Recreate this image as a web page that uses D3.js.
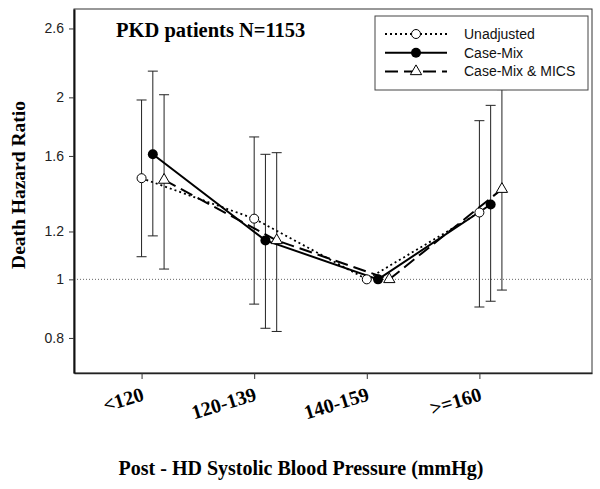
<!DOCTYPE html>
<html>
<head>
<meta charset="utf-8">
<script src="https://cdn.jsdelivr.net/npm/d3@7"></script>
<style>
  body { margin: 0; background: #fff; }
  svg { display: block; }
</style>
</head>
<body>
<svg id="chart" width="600" height="489"></svg>
<script>
// categories of post-HD systolic blood pressure
const categories = ['<120', '120-139', '140-159', '>=160'];

// hazard ratios (140-159 is the reference group)
const unadjusted = [1.47, 1.26, 1, 1.29];
const unadjustedLow = [1.09, 0.91, null, 0.90];
const unadjustedHigh = [1.98, 1.72, null, 1.83];

const caseMix = [1.61, 1.16, 1, 1.33];
const caseMixLow = [1.18, 0.83, null, 0.92];
const caseMixHigh = [2.21, 1.61, null, 1.94];

const caseMixMics = [1.46, 1.16, 1, 1.41];
const caseMixMicsLow = [1.04, 0.82, null, 0.96];
const caseMixMicsHigh = [2.02, 1.62, null, 2.06];

const seriesNames = ['Unadjusted', 'Case-Mix', 'Case-Mix & MICS'];
const yTicks = [0.8, 1, 1.2, 1.6, 2, 2.6];

const serif = '"Liberation Serif", "Times New Roman", serif';
const sans = '"Liberation Sans", Arial, sans-serif';

const series = [
    { name: seriesNames[0], values: unadjusted, low: unadjustedLow, high: unadjustedHigh,
      shift: 0, dash: '2,3', width: 1.8, marker: 'open' },
    { name: seriesNames[1], values: caseMix, low: caseMixLow, high: caseMixHigh,
      shift: 0.1, dash: null, width: 2, marker: 'filled' },
    { name: seriesNames[2], values: caseMixMics, low: caseMixMicsLow, high: caseMixMicsHigh,
      shift: 0.2, dash: '13,6', width: 2, marker: 'triangle' }
];

const svg = d3.select('#chart');

const plotLeft = 74, plotRight = 592, plotTop = 9, plotBottom = 373;

const x = d3.scaleLinear()
    .domain([0.4, 5])
    .range([plotLeft, plotRight]);

const y = d3.scaleLog()
    .domain([0.7, 2.8])
    .range([plotBottom, plotTop]);

// frame
svg.append('rect')
    .attr('x', plotLeft)
    .attr('y', plotTop)
    .attr('width', plotRight - plotLeft)
    .attr('height', plotBottom - plotTop)
    .attr('fill', 'none')
    .attr('stroke', '#333')
    .attr('stroke-width', 1);

// reference line at HR = 1
svg.append('line')
    .attr('x1', plotLeft)
    .attr('x2', plotRight)
    .attr('y1', y(1))
    .attr('y2', y(1))
    .attr('stroke', '#666')
    .attr('stroke-width', 1)
    .attr('stroke-dasharray', '1,2');

// axes
const xAxis = svg.append('g')
    .attr('transform', `translate(0, ${plotBottom})`)
    .call(d3.axisBottom(x)
        .tickValues([1, 2, 3, 4])
        .tickFormat((d) => categories[d - 1])
        .tickSize(6)
        .tickSizeOuter(0));

xAxis.select('.domain').attr('stroke', '#222').attr('stroke-width', 1.5);
xAxis.selectAll('.tick line').attr('stroke', '#333');
xAxis.selectAll('text')
    .attr('x', 0)
    .attr('y', 0)
    .attr('dy', 0)
    .style('text-anchor', 'end')
    .attr('transform', 'translate(3, 27) rotate(-17)')
    .attr('fill', '#000')
    .style('font-family', serif)
    .style('font-weight', 'bold')
    .style('font-size', '20px');

const yAxis = svg.append('g')
    .attr('transform', `translate(${plotLeft}, 0)`)
    .call(d3.axisLeft(y)
        .tickValues(yTicks)
        .tickFormat((d) => String(d))
        .tickSize(5)
        .tickPadding(5)
        .tickSizeOuter(0));

yAxis.select('.domain').attr('stroke', '#111').attr('stroke-width', 2);
yAxis.selectAll('.tick line').attr('stroke', '#333');
yAxis.selectAll('text')
    .attr('fill', '#222')
    .style('font-family', sans)
    .style('font-size', '14px');

// error bars
const cap = 5;
series.forEach((s) => {
    const bars = svg.append('g');
    s.values.forEach((v, i) => {
        if (s.low[i] == null) return;
        const cx = x(i + 1 + s.shift);
        bars.append('line')
            .attr('x1', cx).attr('x2', cx)
            .attr('y1', y(s.low[i])).attr('y2', y(s.high[i]))
            .attr('stroke', '#222').attr('stroke-width', 1);
        [s.low[i], s.high[i]].forEach((e) => {
            bars.append('line')
                .attr('x1', cx - cap).attr('x2', cx + cap)
                .attr('y1', y(e)).attr('y2', y(e))
                .attr('stroke', '#222').attr('stroke-width', 1);
        });
    });
});

// lines
const line = d3.line()
    .x((d) => x(d.i + 1 + d.shift))
    .y((d) => y(d.v));

series.forEach((s) => {
    svg.append('path')
        .datum(s.values.map((v, i) => ({ v, i, shift: s.shift })))
        .attr('d', line)
        .attr('fill', 'none')
        .attr('stroke', '#000')
        .attr('stroke-width', s.width)
        .attr('stroke-dasharray', s.dash);
});

// markers
function drawMarker(g, type, cx, cy) {
    if (type === 'open') {
        g.append('circle')
            .attr('cx', cx).attr('cy', cy).attr('r', 4.5)
            .attr('fill', '#fff').attr('stroke', '#000').attr('stroke-width', 1);
    } else if (type === 'filled') {
        g.append('circle')
            .attr('cx', cx).attr('cy', cy).attr('r', 5)
            .attr('fill', '#000');
    } else {
        g.append('path')
            .attr('d', d3.symbol(d3.symbolTriangle, 55)())
            .attr('transform', `translate(${cx}, ${cy})`)
            .attr('fill', '#fff').attr('stroke', '#000').attr('stroke-width', 1);
    }
}

series.forEach((s) => {
    const g = svg.append('g');
    s.values.forEach((v, i) => drawMarker(g, s.marker, x(i + 1 + s.shift), y(v)));
});

// legend
const legend = svg.append('g');
legend.append('rect')
    .attr('x', 375)
    .attr('y', 16)
    .attr('width', 213)
    .attr('height', 74)
    .attr('fill', '#fff')
    .attr('stroke', '#444')
    .attr('stroke-width', 1);

series.forEach((s, k) => {
    const ly = 34 + k * 18.7;
    legend.append('line')
        .attr('x1', 385).attr('x2', 447)
        .attr('y1', ly).attr('y2', ly)
        .attr('stroke', '#000')
        .attr('stroke-width', s.width)
        .attr('stroke-dasharray', s.dash);
    drawMarker(legend, s.marker, 416, ly);
    legend.append('text')
        .attr('x', 464)
        .attr('y', ly)
        .attr('dy', '0.35em')
        .style('font-family', sans)
        .style('font-size', '14px')
        .attr('fill', '#111')
        .text(s.name);
});

// titles
svg.append('text')
    .attr('x', 116)
    .attr('y', 37)
    .style('font-family', serif)
    .style('font-weight', 'bold')
    .style('font-size', '20.5px')
    .text('PKD patients N=1153');

svg.append('text')
    .attr('transform', 'translate(25, 185) rotate(-90)')
    .attr('text-anchor', 'middle')
    .style('font-family', serif)
    .style('font-weight', 'bold')
    .style('font-size', '19.5px')
    .text('Death Hazard Ratio');

svg.append('text')
    .attr('x', 301)
    .attr('y', 475)
    .attr('text-anchor', 'middle')
    .style('font-family', serif)
    .style('font-weight', 'bold')
    .style('font-size', '20px')
    .text('Post - HD Systolic Blood Pressure (mmHg)');
</script>
</body>
</html>
